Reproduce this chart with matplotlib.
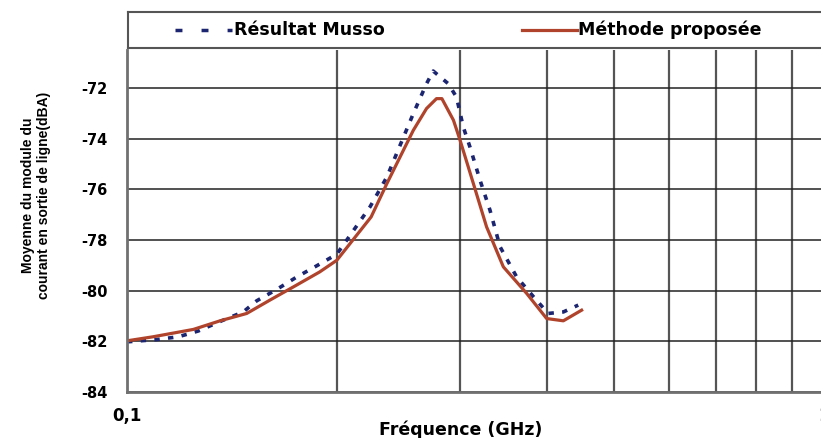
import numpy as np
import matplotlib
matplotlib.use("Agg")
import matplotlib.pyplot as plt
from matplotlib.ticker import FixedLocator, FixedFormatter, NullFormatter

plt.rcParams["font.family"] = ["DejaVu Sans"]
plt.rcParams["font.weight"] = "bold"

# frequency (GHz) and mean current (dBA)
freq_musso = [0.1, 0.1103, 0.1185, 0.1266, 0.1367, 0.1468, 0.1535, 0.164, 0.1752,
              0.1871, 0.2, 0.2066, 0.2232, 0.236, 0.2465, 0.2575, 0.269, 0.275,
              0.289, 0.297, 0.3037, 0.3105, 0.321, 0.3317, 0.343, 0.3623, 0.383,
              0.402, 0.4227, 0.444]
val_musso = [-82.02, -81.93, -81.82, -81.59, -81.19, -80.84, -80.40, -79.95, -79.46,
             -79.02, -78.56, -78.01, -76.69, -75.51, -74.26, -73.01, -71.83, -71.33,
             -71.83, -72.36, -73.54, -74.33, -75.64, -76.82, -78.27, -79.46, -80.24,
             -80.90, -80.84, -80.57]

freq_prop = [0.1, 0.109, 0.1245, 0.136, 0.1485, 0.1604, 0.1733, 0.189, 0.2, 0.224,
             0.236, 0.2465, 0.2575, 0.269, 0.278, 0.283, 0.294, 0.3005, 0.314,
             0.328, 0.3467, 0.3745, 0.4, 0.4227, 0.449]
val_prop = [-81.98, -81.82, -81.53, -81.19, -80.90, -80.37, -79.85, -79.26, -78.80,
            -77.09, -75.77, -74.72, -73.67, -72.81, -72.42, -72.42, -73.27, -74.06,
            -75.77, -77.48, -79.06, -80.11, -81.10, -81.19, -80.77]

labels = ["Résultat Musso", "Méthode proposée"]
yticks = [-84, -82, -80, -78, -76, -74, -72]
xgrid = [0.2, 0.3, 0.4, 0.5, 0.6, 0.7, 0.8, 0.9]

blue = "#1c2570"
red = "#b0432b"

fig = plt.figure(figsize=(8.21, 4.38), dpi=100)
ax = fig.add_axes([127 / 821, 46 / 438, 697 / 821, 342 / 438])

ax.plot(freq_musso, val_musso, color=blue, lw=2.6, dashes=(1.5, 2.3))
ax.plot(freq_prop, val_prop, color=red, lw=2.3)

ax.set_xscale("log")
ax.set_xlim(0.1, 1.0)
ax.set_ylim(-84, -70.5)

ax.xaxis.set_major_locator(FixedLocator([0.1, 1.0]))
ax.xaxis.set_major_formatter(FixedFormatter(["0,1", "1"]))
ax.xaxis.set_minor_locator(FixedLocator(xgrid))
ax.xaxis.set_minor_formatter(NullFormatter())
ax.set_yticks(yticks)
ax.set_yticklabels([str(v) for v in yticks])

ax.tick_params(axis="both", which="both", length=0)
ax.tick_params(axis="y", pad=14, labelsize=10.5)
ax.tick_params(axis="x", pad=11, labelsize=12)

ax.grid(True, axis="y", color="#222222", lw=1.1)
ax.grid(True, axis="x", which="minor", color="#555555", lw=1.6)
ax.set_axisbelow(True)

for side in ["top", "right"]:
    ax.spines[side].set_visible(False)
for side in ["left", "bottom"]:
    ax.spines[side].set_color("#707070")
    ax.spines[side].set_linewidth(2)

fig.text(461 / 821, 1 - 430 / 438, "Fréquence (GHz)", ha="center", va="center",
         fontsize=12.5, fontweight="bold")
fig.text(36 / 821, 1 - 195 / 438, "Moyenne du module du\ncourant en sortie de ligne(dBA)",
         rotation=90, ha="center", va="center", fontsize=10, fontweight="bold",
         family=["Liberation Sans", "DejaVu Sans"], linespacing=1.15)

# legend box above the plot
lg = fig.add_axes([128 / 821, 1 - 48 / 438, 697 / 821, 36 / 438])
lg.set_xlim(0, 697)
lg.set_ylim(0, 1)
lg.set_xticks([])
lg.set_yticks([])
for s in lg.spines.values():
    s.set_color("#555555")
    s.set_linewidth(1.5)
lg.plot([47, 104], [0.5, 0.5], color=blue, lw=2.5, dashes=(2.0, 5.5))
lg.text(106, 0.5, labels[0], va="center", ha="left", fontsize=12.5, fontweight="bold")
lg.plot([394, 449], [0.5, 0.5], color=red, lw=2.3)
lg.text(450, 0.5, labels[1], va="center", ha="left", fontsize=12.5, fontweight="bold")

fig.savefig("out.png", dpi=100)
